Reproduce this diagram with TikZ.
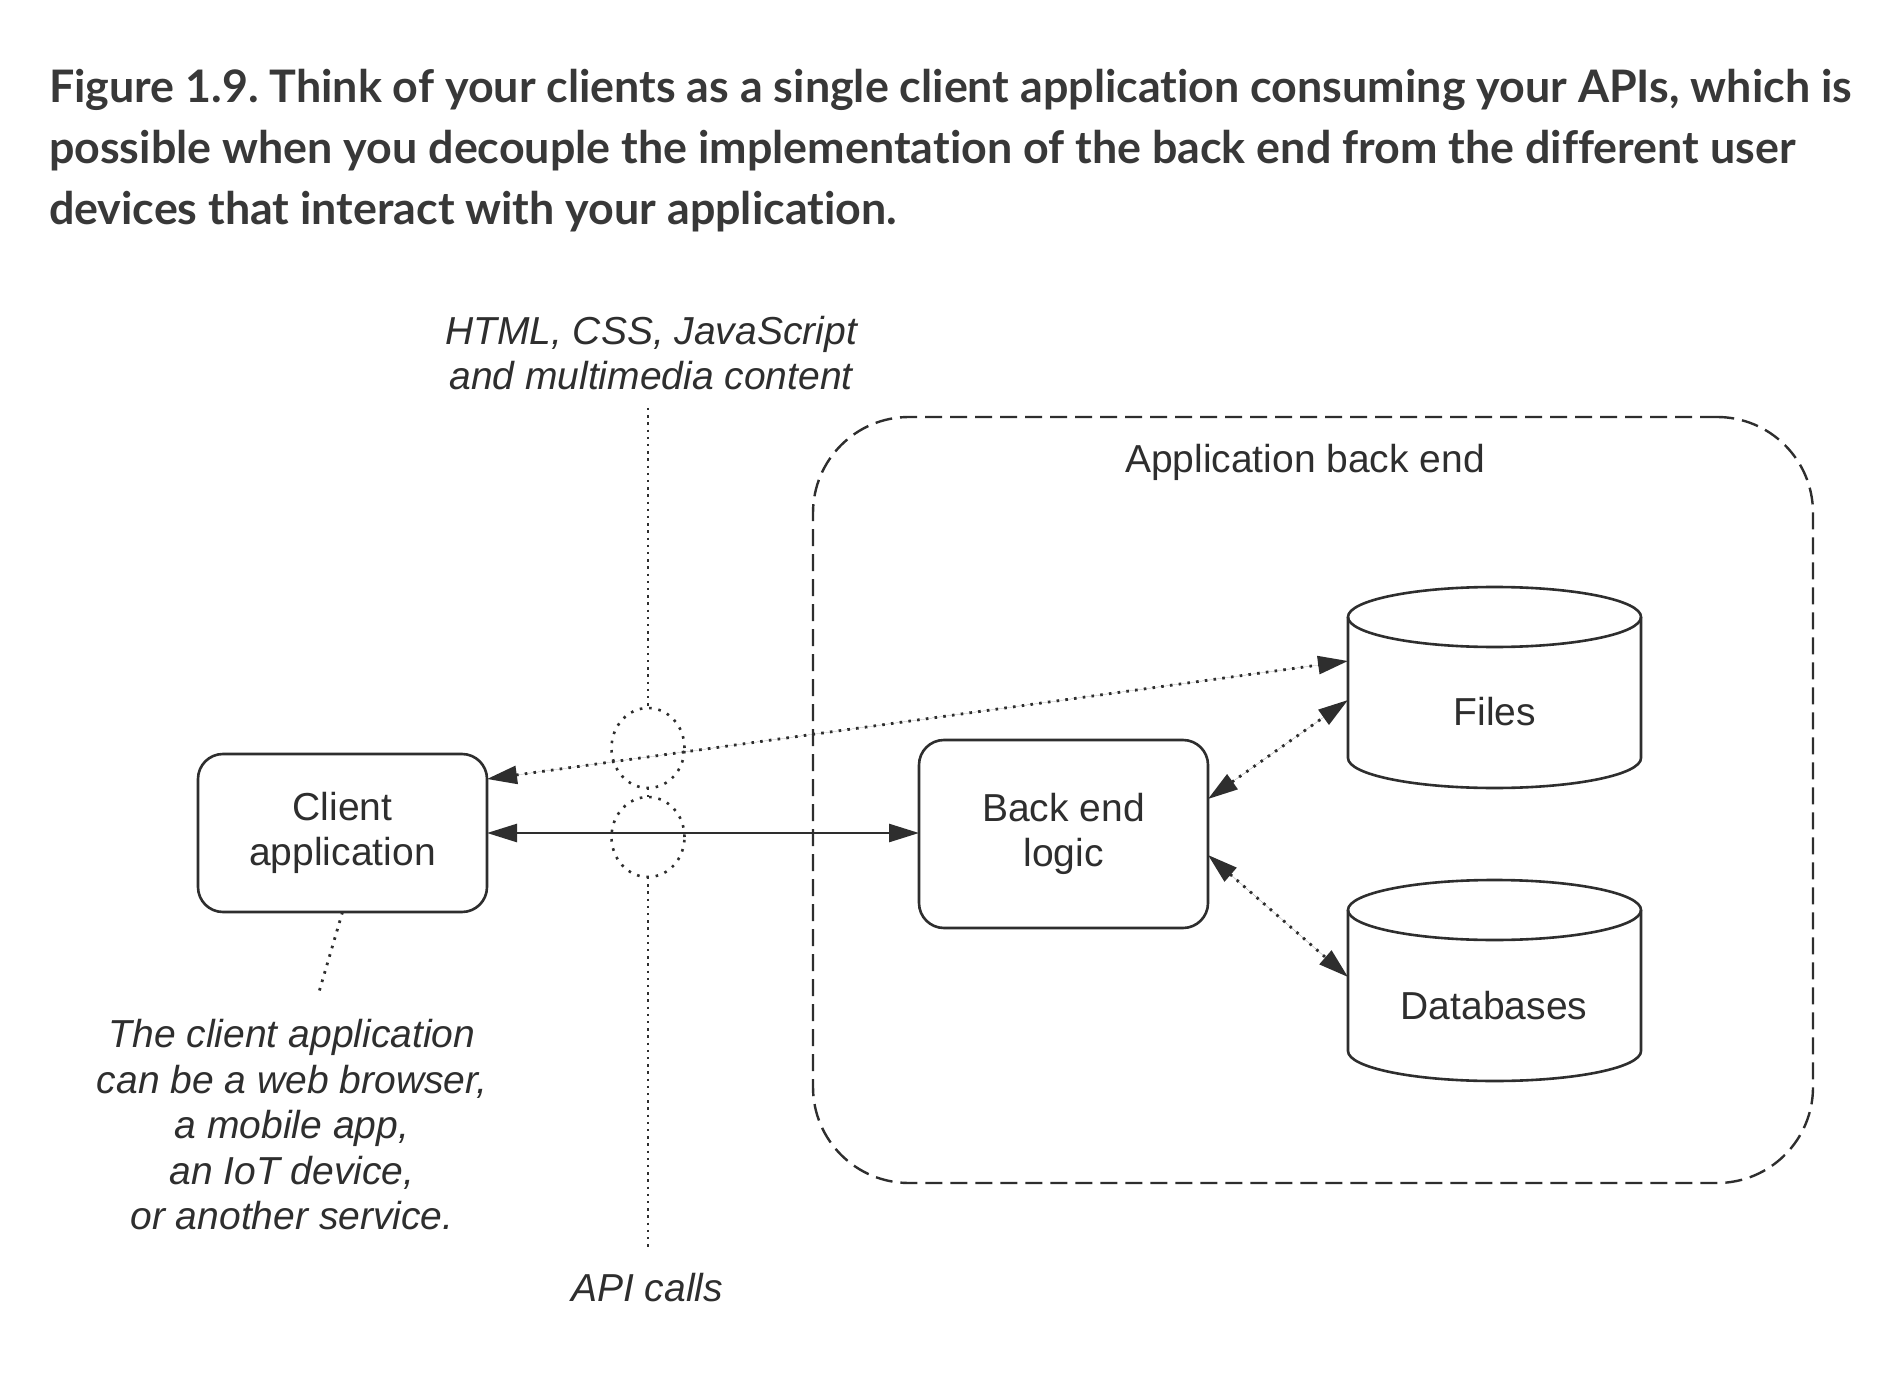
\documentclass[tikz,border=0pt]{standalone}
\usepackage{fontspec}
\setmainfont{Liberation Sans}
\newfontfamily\titlefont[Ligatures={NoCommon,NoRare}]{Lato}
\usetikzlibrary{arrows.meta,shapes.geometric}
\definecolor{ink}{HTML}{2E2E2E}
\definecolor{titleink}{HTML}{383838}
\frenchspacing
\begin{document}
\begin{tikzpicture}[x=0.5pt,y=-0.5pt,
  every node/.style={inner sep=0pt,outer sep=0pt},
  titletxt/.style={font=\titlefont\bfseries\fontsize{22.4pt}{30pt}\selectfont,text=titleink,anchor=base west},
  lbl/.style={font=\fontsize{19.5pt}{22.75pt}\selectfont,text=ink,align=center},
  ilbl/.style={font=\fontsize{19.5pt}{22.75pt}\selectfont\itshape,text=ink,align=center},
  procbox/.style={draw=ink,line width=1.3pt,rounded corners=12.5pt,minimum width=144.5pt,lbl},
  cylbody/.style={minimum width=146.5pt,minimum height=100.5pt},
  cylline/.style={draw=ink,line width=1.3pt},
  dots/.style={draw=ink,line width=1.4pt,dash pattern=on 1.3pt off 3.1pt},
  finedots/.style={draw=ink,line width=1.2pt,dash pattern=on 1.2pt off 2.4pt},
  circdots/.style={draw=ink,line width=1.3pt,dash pattern=on 1.3pt off 3.4pt},
  dashbox/.style={draw=ink,line width=1.2pt,dash pattern=on 8.5pt off 4pt,rounded corners=48pt},
  both/.style={{Triangle[length=15pt,width=9pt]}-{Triangle[length=15pt,width=9pt]}},
]
\useasboundingbox[fill=white] (0,0) rectangle (1898,1384);

% title
\node[titletxt] (t1) at (49,103) {Figure 1.9. Think of your clients as a single client application consuming your APIs, which is};
\node[titletxt] (t2) at (49,164) {possible when you decouple the implementation of the back end from the different user};
\node[titletxt] (t3) at (49,225) {devices that interact with your application.};

% back end container
\node[dashbox,minimum width=500pt,minimum height=383pt] (be) at (1313,800) {};
\node[lbl] (betxt) at (1305,462) {Application back end};

% boxes
\node[procbox,minimum height=79pt] (client) at (342.5,833) {Client\\application};
\node[procbox,minimum height=94pt] (logic) at (1063.5,834) {Back end\\logic};

% cylinders
\node[cylbody] (files) at (1494.5,687.5) {};
\draw[cylline] ([yshift=-15pt]files.north west) -- ([yshift=15pt]files.south west)
  arc[start angle=180,end angle=360,x radius=73.25pt,y radius=15pt] -- ([yshift=-15pt]files.north east);
\draw[cylline] ([yshift=-15pt]files.north) ellipse[x radius=73.25pt,y radius=15pt];
\node[lbl] (filestxt) at (1495,712) {Files};

\node[cylbody] (db) at (1494.5,980.5) {};
\draw[cylline] ([yshift=-15pt]db.north west) -- ([yshift=15pt]db.south west)
  arc[start angle=180,end angle=360,x radius=73.25pt,y radius=15pt] -- ([yshift=-15pt]db.north east);
\draw[cylline] ([yshift=-15pt]db.north) ellipse[x radius=73.25pt,y radius=15pt];
\node[lbl] (dbtxt) at (1494,1006) {Databases};

% boundary annotations
\node[ilbl] (html) at (651,353) {HTML, CSS, JavaScript\\and multimedia content};
\node[ilbl] (api) at (647,1288) {API calls};
\coordinate (vtop) at (648,408);
\coordinate (vbot) at (648,1247);
\node[circdots,ellipse,minimum width=36.5pt,minimum height=40pt] (c1) at (648,748) {};
\node[circdots,ellipse,minimum width=36.5pt,minimum height=40pt] (c2) at (648,837) {};
\draw[finedots] (vtop) -- (c1.north);
\draw[finedots] (c1.south) -- (c2.north);
\draw[finedots] (c2.south) -- (vbot);

% connectors
\draw[ink,line width=1.3pt,both] (client.east) -- (client.east -| logic.west);
\draw[dots,both,fill=ink] ([yshift=27pt]client.east) -- ([yshift=13.25pt]files.west);
\draw[dots,both,fill=ink] ([yshift=17.5pt]logic.east) -- ([yshift=-6.25pt]files.west);
\draw[dots,both,fill=ink] ([yshift=-10.5pt]logic.east) -- ([yshift=1.75pt]db.west);

% note
\coordinate (noteend) at (319,992);
\draw[dots] (client.south) -- (noteend);
\node[ilbl] (note) at (292,1125) {The client application\\can be a web browser,\\a mobile app,\\an IoT device,\\or another service.};
\end{tikzpicture}
\end{document}
